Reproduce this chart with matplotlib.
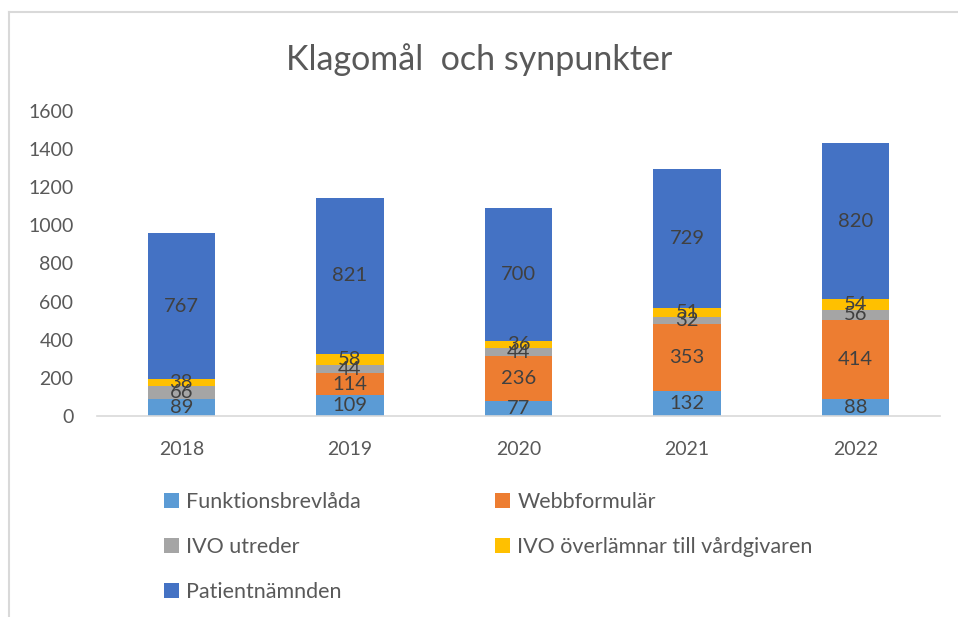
import matplotlib
matplotlib.use("Agg")
import matplotlib.pyplot as plt
from matplotlib.lines import Line2D
import numpy as np

plt.rcParams['font.family'] = ['Lato', 'DejaVu Sans']

years = ["2018", "2019", "2020", "2021", "2022"]
series_names = ["Funktionsbrevlåda", "Webbformulär", "IVO utreder",
                "IVO överlämnar till vårdgivaren", "Patientnämnden"]
funktionsbrevlada = [89, 109, 77, 132, 88]
webbformular = [0, 114, 236, 353, 414]
ivo_utreder = [66, 44, 44, 32, 56]
ivo_overlamnar = [38, 58, 36, 51, 54]
patientnamnden = [767, 821, 700, 729, 820]
colors = ["#5B9BD5", "#ED7D31", "#A5A5A5", "#FFC000", "#4472C4"]

data = [funktionsbrevlada, webbformular, ivo_utreder, ivo_overlamnar, patientnamnden]

fig = plt.figure(figsize=(9.58, 6.17), dpi=100)
ax = fig.add_axes([0.1013, 0.3258, 0.9812 - 0.1013, 0.8201 - 0.3258])

x = np.arange(len(years))
bottom = np.zeros(len(years))
handles = []
for name, vals, c in zip(series_names, data, colors):
    vals = np.array(vals, dtype=float)
    bars = ax.bar(x, vals, 0.4, bottom=bottom, color=c, label=name, zorder=2)
    labels = [f"{int(v)}" if v > 0 else "" for v in vals]
    ax.bar_label(bars, labels=labels, label_type="center", color="#404040", fontsize=14.5)
    handles.append(bars)
    bottom += vals

ax.set_xlim(-0.5, len(years) - 0.5)
ax.set_ylim(0, 1600)
ax.set_yticks(np.arange(0, 1601, 200))
ax.set_xticks(x)
ax.set_xticklabels(years)
ax.tick_params(axis="both", length=0, labelsize=14, labelcolor="#595959")
ax.tick_params(axis="y", pad=17)
ax.tick_params(axis="x", pad=18)
for s in ["top", "right", "left"]:
    ax.spines[s].set_visible(False)
ax.spines["bottom"].set_color("#D9D9D9")
ax.spines["bottom"].set_linewidth(1.2)

fig.suptitle("Klagomål  och synpunkter", y=0.93, fontsize=24.5, color="#595959")

order = [0, 2, 4, 1, 3]
leg = fig.legend([handles[i] for i in order], [series_names[i] for i in order],
                 ncol=2, loc="upper left", bbox_to_anchor=(0.171, 0.202),
                 bbox_transform=fig.transFigure, frameon=False, fontsize=15.5,
                 handlelength=0.7, handleheight=0.7, handletextpad=0.35,
                 columnspacing=6.2, labelspacing=1.15, labelcolor="#595959",
                 borderaxespad=0, borderpad=0)

# open chart frame (top and left border)
fig.add_artist(Line2D([0.0093, 0.0093], [0.0, 0.98], transform=fig.transFigure,
                      color="#D9D9D9", lw=1.5))
fig.add_artist(Line2D([0.0093, 1.0], [0.98, 0.98], transform=fig.transFigure,
                      color="#D9D9D9", lw=1.5))

fig.savefig("out.png", dpi=100)
